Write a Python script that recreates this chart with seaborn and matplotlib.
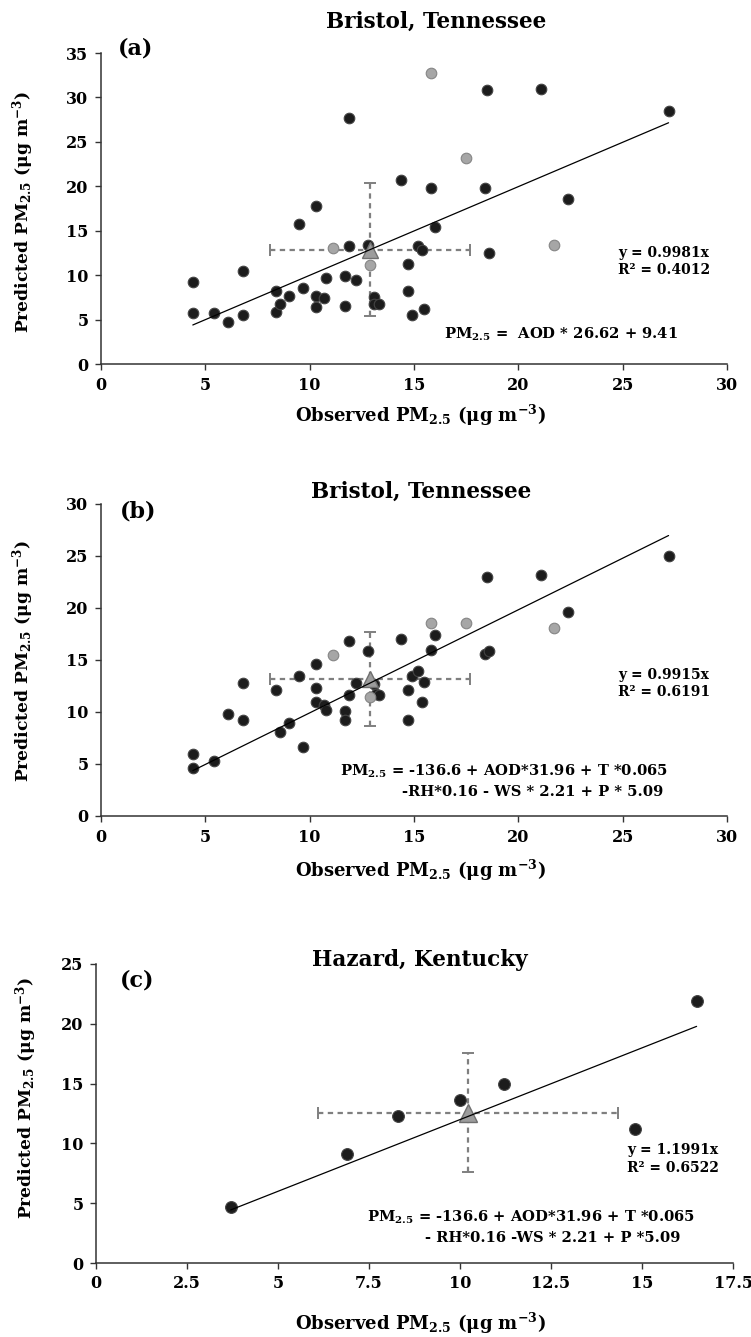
import matplotlib
matplotlib.use("Agg")
import matplotlib.pyplot as plt
import pandas as pd
import seaborn as sns

# panel (a): Bristol, AOD-only model
a_obs = [4.4, 4.4, 5.4, 6.1, 6.8, 6.8, 8.4, 8.4, 8.6, 9.0, 9.5, 9.7, 10.3, 10.3, 10.3,
         10.7, 10.8, 11.7, 11.7, 11.9, 11.9, 12.2, 12.8, 13.1, 13.1, 13.3, 14.4, 14.7,
         14.7, 14.9, 15.2, 15.4, 15.5, 15.8, 16.0, 18.4, 18.5, 18.6, 21.1, 22.4, 27.2]
a_pred = [9.2, 5.7, 5.7, 4.7, 5.5, 10.5, 8.2, 5.8, 6.8, 7.6, 15.7, 8.6, 17.8, 7.6, 6.4,
          7.4, 9.7, 9.9, 6.5, 27.7, 13.3, 9.4, 13.4, 7.5, 6.7, 6.8, 20.7, 11.3,
          8.2, 5.5, 13.3, 12.8, 6.2, 19.8, 15.4, 19.8, 30.8, 12.5, 30.9, 18.6, 28.5]
a_gray_obs = [15.8, 17.5, 21.7, 11.1, 12.9]
a_gray_pred = [32.8, 23.2, 13.4, 13.0, 11.1]
a_mean = (12.88, 12.85)
a_err = (4.8, 7.5)
a_slope = 0.9981

# panel (b): Bristol, AOD + meteorology model
b_obs = [4.4, 4.4, 5.4, 6.1, 6.8, 6.8, 8.4, 8.6, 9.0, 9.5, 9.7, 10.3, 10.3, 10.3, 10.7,
         10.8, 11.7, 11.7, 11.9, 11.9, 12.2, 12.8, 13.1, 13.2, 13.3, 14.4, 14.7, 14.7,
         14.9, 15.2, 15.4, 15.5, 15.8, 16.0, 18.4, 18.5, 18.6, 21.1, 22.4, 27.2]
b_pred = [6.0, 4.6, 5.3, 9.8, 12.8, 9.2, 12.1, 8.1, 8.9, 13.5, 6.6, 14.6, 12.3, 11.0, 10.7,
          10.2, 10.1, 9.2, 16.8, 11.6, 12.8, 15.9, 12.7, 11.7, 11.6, 17.0, 12.1, 9.2,
          13.5, 13.9, 11.0, 12.9, 16.0, 17.4, 15.6, 23.0, 15.9, 23.2, 19.6, 25.0]
b_gray_obs = [15.8, 17.5, 21.7, 11.1, 12.9]
b_gray_pred = [18.6, 18.6, 18.1, 15.5, 11.4]
b_mean = (12.88, 13.17)
b_err = (4.8, 4.5)
b_slope = 0.9915

# panel (c): Hazard
c_obs = [3.7, 6.9, 8.3, 10.0, 11.2, 14.8, 16.5]
c_pred = [4.7, 9.1, 12.3, 13.6, 15.0, 11.2, 21.9]
c_mean = (10.22, 12.58)
c_err = (4.12, 4.98)
c_slope = 1.1991

sns.set_style("ticks")
plt.rcParams["font.family"] = ["DejaVu Serif"]
plt.rcParams["font.weight"] = "bold"
plt.rcParams["mathtext.fontset"] = "dejavuserif"
plt.rcParams["text.color"] = "black"
plt.rcParams["axes.labelcolor"] = "black"
plt.rcParams["xtick.color"] = "black"
plt.rcParams["ytick.color"] = "black"

XLAB = r"Observed PM$_\mathbf{2.5}$ ($\mathbf{\mu}$g m$^\mathbf{-3}$)"
YLAB = r"Predicted PM$_\mathbf{2.5}$ ($\mathbf{\mu}$g m$^\mathbf{-3}$)"
PM = r"PM$_\mathbf{2.5}$"


def draw_panel(ax, obs, pred, gray_obs, gray_pred, mean, err, slope, dot=58, tri=11):
    eb = ax.errorbar(mean[0], mean[1], xerr=err[0], yerr=err[1], fmt="none",
                     ecolor="#7f7f7f", elinewidth=1.6, capsize=4, capthick=1.4, zorder=1)
    eb[2][0].set_linestyle((0, (2.4, 2.0)))
    eb[2][1].set_linestyle((0, (2.4, 2.0)))

    df = pd.DataFrame({"obs": obs, "pred": pred})
    sns.scatterplot(data=df, x="obs", y="pred", ax=ax, s=dot, color="#1c1c1c",
                    edgecolor="#444444", linewidth=0.8, zorder=3)
    if gray_obs:
        gdf = pd.DataFrame({"obs": gray_obs, "pred": gray_pred})
        sns.scatterplot(data=gdf, x="obs", y="pred", ax=ax, s=dot, color="#a6a6a6",
                        edgecolor="#858585", linewidth=0.8, zorder=3)

    ax.plot([mean[0]], [mean[1]], marker="^", markersize=tri, color="#9c9c9c",
            markeredgecolor="#6f6f6f", markeredgewidth=1.0, zorder=4)

    xs = [min(obs), max(obs)]
    line = pd.DataFrame({"x": xs, "y": [slope * v for v in xs]})
    sns.lineplot(data=line, x="x", y="y", ax=ax, color="black", linewidth=0.9, zorder=5)

    for side in ("top", "right"):
        ax.spines[side].set_visible(False)
    for side in ("left", "bottom"):
        ax.spines[side].set_color("#333333")
        ax.spines[side].set_linewidth(1.1)
    ax.tick_params(direction="out", length=4, width=1.0, color="#333333",
                   labelsize=11.5, pad=5)


def bold_ticks(ax):
    for lab in ax.get_xticklabels() + ax.get_yticklabels():
        lab.set_fontweight("bold")


fig = plt.figure(figsize=(7.51, 13.37), dpi=100)
W, H = 751, 1337

# ---------- (a)
ax = fig.add_axes([101 / W, 1 - 364 / H, 626 / W, 311 / H])
draw_panel(ax, a_obs, a_pred, a_gray_obs, a_gray_pred, a_mean, a_err, a_slope)
ax.set_xlim(0, 30)
ax.set_ylim(0, 35)
ax.set_xticks(range(0, 31, 5))
ax.set_yticks(range(0, 36, 5))
bold_ticks(ax)
ax.text(0.535, 1.10, "Bristol, Tennessee", transform=ax.transAxes, ha="center",
        va="center", fontsize=15.5, fontweight="bold")
ax.text(0.056, 1.013, "(a)", transform=ax.transAxes, ha="center", va="center",
        fontsize=16, fontweight="bold")
ax.text(24.8, 11.5, "y = 0.9981x\nR² = 0.4012", ha="left", va="center",
        fontsize=10, fontweight="bold", linespacing=1.3)
ax.text(27.65, 3.35, PM + " =  AOD * 26.62 + 9.41", ha="right", va="center",
        fontsize=10.6, fontweight="bold")
ax.set_xlabel(XLAB, fontsize=13, fontweight="bold", va="center")
ax.set_ylabel(YLAB, fontsize=12.3, fontweight="bold", va="center")
ax.xaxis.set_label_coords(0.51, -51 / 311)
ax.yaxis.set_label_coords(-78 / 626, 0.49)

# ---------- (b)
ax = fig.add_axes([101 / W, 1 - 816 / H, 626 / W, 312 / H])
draw_panel(ax, b_obs, b_pred, b_gray_obs, b_gray_pred, b_mean, b_err, b_slope)
ax.set_xlim(0, 30)
ax.set_ylim(0, 30)
ax.set_xticks(range(0, 31, 5))
ax.set_yticks(range(0, 31, 5))
bold_ticks(ax)
ax.text(0.511, 1.038, "Bristol, Tennessee", transform=ax.transAxes, ha="center",
        va="center", fontsize=15.5, fontweight="bold")
ax.text(0.059, 0.975, "(b)", transform=ax.transAxes, ha="center", va="center",
        fontsize=16, fontweight="bold")
ax.text(24.77, 12.75, "y = 0.9915x\nR² = 0.6191", ha="left", va="center",
        fontsize=10, fontweight="bold", linespacing=1.3)
ax.text(27.19, 4.26, PM + " = -136.6 + AOD*31.96 + T *0.065", ha="right", va="center",
        fontsize=10.6, fontweight="bold")
ax.text(26.96, 2.34, "-RH*0.16 - WS * 2.21 + P * 5.09", ha="right", va="center",
        fontsize=10.6, fontweight="bold")
ax.set_xlabel(XLAB, fontsize=13, fontweight="bold", va="center")
ax.set_ylabel(YLAB, fontsize=12.3, fontweight="bold", va="center")
ax.xaxis.set_label_coords(0.51, -54 / 312)
ax.yaxis.set_label_coords(-78 / 626, 0.497)

# ---------- (c)
ax = fig.add_axes([96 / W, 1 - 1263 / H, 637 / W, 299 / H])
draw_panel(ax, c_obs, c_pred, [], [], c_mean, c_err, c_slope, dot=72, tri=13)
ax.set_xlim(0, 17.5)
ax.set_ylim(0, 25)
ax.set_xticks([0, 2.5, 5, 7.5, 10, 12.5, 15, 17.5])
ax.set_xticklabels(["0", "2.5", "5", "7.5", "10", "12.5", "15", "17.5"])
ax.set_yticks(range(0, 26, 5))
bold_ticks(ax)
ax.text(0.509, 1.013, "Hazard, Kentucky", transform=ax.transAxes, ha="center",
        va="center", fontsize=15.5, fontweight="bold")
ax.text(0.064, 0.946, "(c)", transform=ax.transAxes, ha="center", va="center",
        fontsize=16, fontweight="bold")
ax.text(14.6, 8.7, "y = 1.1991x\nR² = 0.6522", ha="left", va="center",
        fontsize=10, fontweight="bold", linespacing=1.3)
ax.text(16.45, 3.79, PM + " = -136.6 + AOD*31.96 + T *0.065", ha="right", va="center",
        fontsize=10.6, fontweight="bold")
ax.text(16.05, 2.07, "- RH*0.16 -WS * 2.21 + P *5.09", ha="right", va="center",
        fontsize=10.6, fontweight="bold")
ax.set_xlabel(XLAB, fontsize=13, fontweight="bold", va="center")
ax.set_ylabel(YLAB, fontsize=12.3, fontweight="bold", va="center")
ax.xaxis.set_label_coords(0.51, -60 / 299)
ax.yaxis.set_label_coords(-70 / 637, 0.55)

fig.savefig("out.png", dpi=100)
